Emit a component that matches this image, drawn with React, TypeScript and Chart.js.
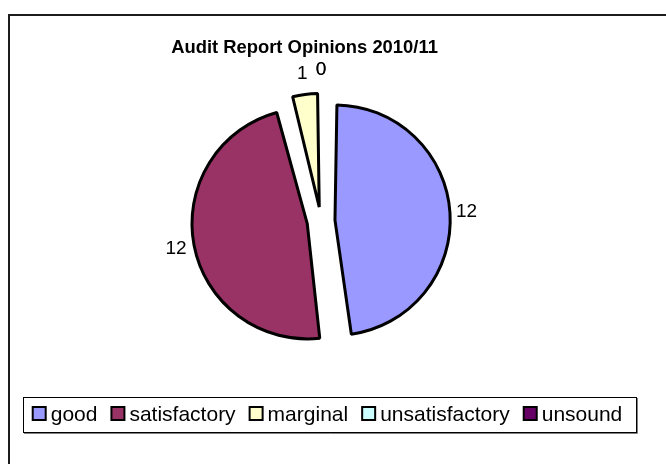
import React, { useEffect, useRef } from "react";
import { Chart, registerables } from "chart.js";

Chart.register(...registerables);

const TITLE = "Audit Report Opinions 2010/11";
const categories = ["good", "satisfactory", "marginal", "unsatisfactory", "unsound"];
const opinionCounts = [12, 12, 1, 0, 0];
const sliceColors = ["#9999FF", "#993366", "#FFFFCC", "#CCFFFF", "#660066"];

const FONT = '"Liberation Sans", Arial, sans-serif';
const SLICE_OFFSET = 56;
const PIE_RADIUS = 103;

const framePlugin = {
  id: "frame",
  beforeDraw(chart: any) {
    const ctx = chart.ctx;
    ctx.save();
    ctx.fillStyle = "#ffffff";
    ctx.fillRect(0, 0, chart.width, chart.height);
    ctx.fillStyle = "#1c1c1c";
    ctx.fillRect(8, 14, 2, chart.height - 14);
    ctx.fillRect(8, 14, chart.width - 8, 2);
    ctx.restore();
  },
};

const titlePlugin = {
  id: "excelTitle",
  afterDraw(chart: any) {
    const ctx = chart.ctx;
    ctx.save();
    ctx.font = `bold 18.4px ${FONT}`;
    ctx.fillStyle = "#000";
    ctx.textAlign = "center";
    ctx.textBaseline = "alphabetic";
    ctx.fillText(TITLE, 304.5, 53);
    ctx.restore();
  },
};

const valueLabelPlugin = {
  id: "valueLabels",
  afterDatasetsDraw(chart: any) {
    const ctx = chart.ctx;
    const meta = chart.getDatasetMeta(0);
    const values = chart.data.datasets[0].data as number[];
    ctx.save();
    ctx.font = `19px ${FONT}`;
    ctx.fillStyle = "#000";
    ctx.textAlign = "center";
    ctx.textBaseline = "middle";
    meta.data.forEach((arc: any, i: number) => {
      const { x, y, startAngle, endAngle, outerRadius, circumference } = arc.getProps(
        ["x", "y", "startAngle", "endAngle", "outerRadius", "circumference"],
        true
      );
      const half = (startAngle + endAngle) / 2;
      const dx = Math.cos(half);
      const dy = Math.sin(half);
      const shift = SLICE_OFFSET / 4;
      const fix = 1 - Math.sin(Math.min(Math.PI, circumference || 0));
      const r = outerRadius + shift * fix;
      const cx = x + dx * shift;
      const cy = y + dy * shift;
      const text = String(values[i]);
      const w = ctx.measureText(text).width;
      const dist = r + 5 + Math.abs(dx) * (w / 2) + Math.abs(dy) * 15.5;
      ctx.fillText(text, cx + dx * dist, cy + dy * dist);
    });
    ctx.restore();
  },
};

const legendPlugin = {
  id: "excelLegend",
  afterDraw(chart: any) {
    const ctx = chart.ctx;
    const labels = chart.data.labels as string[];
    const colors = chart.data.datasets[0].backgroundColor as string[];
    ctx.save();
    ctx.strokeStyle = "#000";
    ctx.lineWidth = 1;
    ctx.strokeRect(23.5, 397.5, 613, 35);
    ctx.strokeStyle = "#808080";
    ctx.beginPath();
    ctx.moveTo(637.5, 398);
    ctx.lineTo(637.5, 433.5);
    ctx.lineTo(24, 433.5);
    ctx.stroke();

    ctx.font = `21px ${FONT}`;
    ctx.textBaseline = "middle";
    ctx.textAlign = "left";
    const box = 13;
    const boxGap = 4;
    const itemGap = 13;
    const widths = labels.map((l) => ctx.measureText(l).width);
    const total =
      widths.reduce((a, b) => a + b, 0) + labels.length * (box + 2 + boxGap) + (labels.length - 1) * itemGap;
    let x = 327 - total / 2;
    const cy = 414;
    labels.forEach((l, i) => {
      ctx.fillStyle = colors[i];
      ctx.fillRect(x + 1, cy - 7, box, box);
      ctx.strokeStyle = "#000";
      ctx.lineWidth = 2;
      ctx.strokeRect(x + 1, cy - 7, box, box);
      const tx = x + box + 2 + boxGap;
      ctx.fillStyle = "#000";
      ctx.fillText(l, tx, cy + 1);
      x = tx + widths[i] + itemGap;
    });
    ctx.restore();
  },
};

export default function App() {
  const ref = useRef<HTMLCanvasElement | null>(null);

  useEffect(() => {
    if (!ref.current) return;
    const chart = new Chart(ref.current, {
      type: "pie",
      data: {
        labels: categories,
        datasets: [
          {
            data: opinionCounts,
            backgroundColor: sliceColors,
            borderColor: "#000000",
            borderWidth: 3,
            offset: SLICE_OFFSET,
            borderJoinStyle: "bevel",
          },
        ],
      },
      options: {
        responsive: false,
        animation: false,
        devicePixelRatio: 1,
        radius: PIE_RADIUS,
        layout: { padding: { left: 90, right: 114, top: 90, bottom: 112 } },
        plugins: {
          legend: { display: false },
          title: { display: false },
          tooltip: { enabled: false },
        },
      },
      plugins: [framePlugin, valueLabelPlugin, titlePlugin, legendPlugin],
    });
    return () => chart.destroy();
  }, []);

  return (
    <div style={{ position: "fixed", left: 0, top: 0, width: 666, height: 464, background: "#fff" }}>
      <canvas ref={ref} width={666} height={464} style={{ display: "block" }} />
    </div>
  );
}
